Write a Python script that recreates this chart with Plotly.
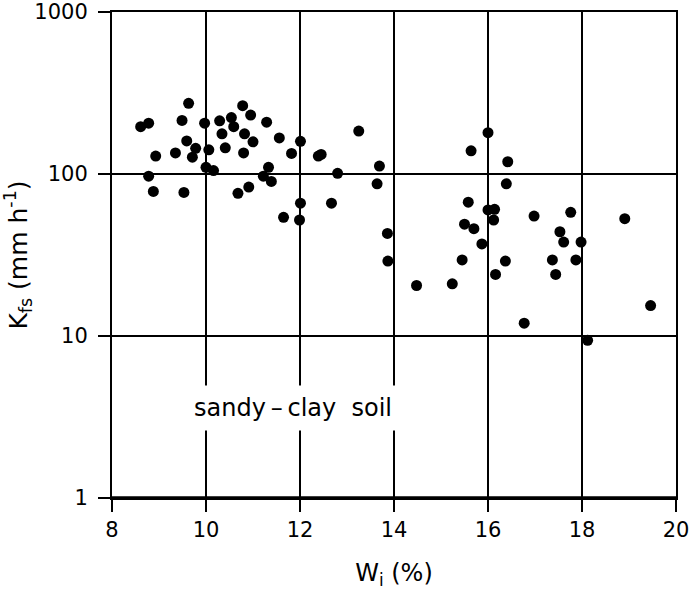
import plotly.graph_objects as go

# Initial water content W_i (%) and field-saturated hydraulic conductivity K_fs (mm/h)
wi = [9.63, 8.61, 8.78, 9.49, 9.97, 10.29, 10.54, 10.59, 10.78, 10.95,
      11.29, 10.34, 10.82, 11.00, 11.56, 9.59, 9.78, 9.71, 9.35, 8.93,
      10.06, 10.41, 10.80, 11.82, 10.00, 10.16, 8.78, 8.88, 9.53, 10.68,
      10.91, 11.33, 11.22, 11.39, 11.65,
      12.01, 12.45, 12.39, 13.25, 13.69, 12.80, 13.64, 12.01, 12.67, 11.99,
      13.86, 13.87, 14.48, 15.24, 15.64, 15.58, 15.50, 15.70, 15.45,
      16.00, 16.42, 16.39, 16.00, 16.14, 16.12, 15.87, 16.98, 17.76, 18.91,
      17.53, 17.61, 17.98, 16.37, 16.16, 17.37, 17.87, 17.44, 16.77, 18.12,
      19.46]
kfs = [273, 196, 206, 214, 206, 213, 223, 196, 264, 231,
       209, 177, 177, 158, 167, 160, 144, 127, 135, 129,
       141, 145, 135, 134, 110, 105, 97, 78, 77, 76,
       83, 110, 97, 90, 54,
       159, 132, 129, 184, 112, 101, 87, 66, 66, 52,
       43, 29, 20.5, 21, 139, 67, 49, 46, 29.5,
       180, 119, 87, 60, 60.5, 52, 37, 55, 58, 53,
       44, 38, 38, 29, 24, 29.5, 29.5, 24, 12, 9.4,
       15.4]

x_ticks = [8, 10, 12, 14, 16, 18, 20]
y_ticks = [1, 10, 100, 1000]
y_tick_labels = ["1", "10", "100", "1000"]

FONT = "DejaVu Sans"

fig = go.Figure()
fig.add_trace(go.Scatter(
    x=wi, y=kfs, mode="markers",
    marker=dict(color="black", size=11, line=dict(width=0)),
    showlegend=False,
))

fig.add_annotation(
    x=11.86, y=0.556, xref="x", yref="y",
    text="sandy\u2009\u2013\u2009clay  soil", showarrow=False,
    font=dict(family=FONT, size=24, color="black"),
    bgcolor="white", borderpad=8,
)

fig.update_xaxes(
    range=[8, 20], tickvals=x_ticks, ticktext=[str(v) for v in x_ticks],
    showgrid=True, gridcolor="black", gridwidth=1.5,
    showline=True, linecolor="black", linewidth=2, mirror=True,
    ticks="outside", ticklen=12, tickwidth=2, tickcolor="black",
    tickfont=dict(family=FONT, size=21, color="black"),
    title=dict(text="W<sub>i</sub> (%)", font=dict(family=FONT, size=24, color="black"), standoff=25),
    zeroline=False, automargin=False,
)
fig.update_yaxes(
    type="log", range=[0, 3], tickvals=y_ticks, ticktext=y_tick_labels,
    showgrid=True, gridcolor="black", gridwidth=1.5,
    showline=True, linecolor="black", linewidth=2, mirror=True,
    ticks="outside", ticklen=12, tickwidth=2, tickcolor="black",
    tickfont=dict(family=FONT, size=21, color="black"),
    ticklabelstandoff=6,
    title=dict(text="K<sub>fs</sub> (mm h<sup>-1</sup>)", font=dict(family=FONT, size=25, color="black"), standoff=3),
    zeroline=False, automargin=False,
)
# thicker bottom axis line
fig.add_shape(type="line", xref="paper", yref="paper", x0=0, x1=1, y0=0, y1=0,
              line=dict(color="black", width=3.5))

fig.update_layout(
    width=695, height=590,
    margin=dict(l=112, r=19, t=12, b=92),
    paper_bgcolor="white", plot_bgcolor="white",
)

fig.write_html("out.html")
